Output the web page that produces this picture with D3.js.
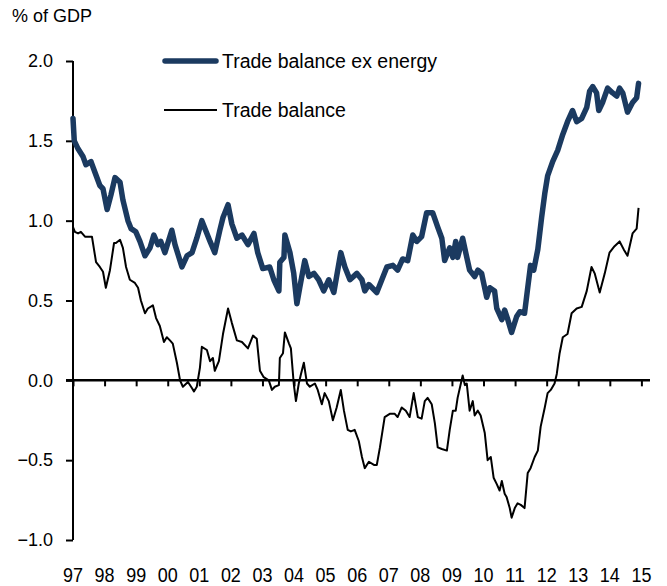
<!DOCTYPE html>
<html><head><meta charset="utf-8">
<script src="https://cdn.jsdelivr.net/npm/d3@7"></script>
<style>html,body{margin:0;padding:0;background:#fff;}svg{display:block;font-family:"Liberation Sans",Arial,sans-serif;}</style>
</head><body><div id="chart"></div>
<script>
// Decimal years (1997 = start of 1997) and values, % of GDP
const exDates = [1997.00,1997.04,1997.16,1997.32,1997.41,1997.57,1997.70,1997.85,1997.95,1998.08,1998.20,1998.33,1998.49,1998.58,1998.74,1998.84,1998.99,1999.12,1999.28,1999.44,1999.56,1999.69,1999.78,1999.91,2000.13,2000.23,2000.45,2000.61,2000.77,2000.92,2001.08,2001.24,2001.34,2001.49,2001.65,2001.75,2001.91,2002.03,2002.19,2002.35,2002.54,2002.73,2002.85,2003.01,2003.23,2003.36,2003.52,2003.55,2003.68,2003.71,2003.87,2003.99,2004.09,2004.18,2004.34,2004.47,2004.63,2004.78,2004.94,2005.10,2005.26,2005.48,2005.61,2005.77,2005.99,2006.15,2006.24,2006.37,2006.62,2006.78,2006.94,2007.13,2007.28,2007.44,2007.60,2007.76,2007.89,2008.04,2008.20,2008.39,2008.55,2008.68,2008.77,2008.93,2009.03,2009.12,2009.18,2009.34,2009.47,2009.56,2009.72,2009.82,2009.94,2010.10,2010.20,2010.35,2010.42,2010.58,2010.67,2010.77,2010.89,2011.05,2011.15,2011.30,2011.40,2011.49,2011.59,2011.72,2011.84,2011.94,2012.03,2012.19,2012.35,2012.51,2012.66,2012.82,2012.95,2013.11,2013.27,2013.36,2013.46,2013.58,2013.65,2013.77,2013.93,2014.09,2014.22,2014.31,2014.41,2014.56,2014.72,2014.85,2014.91];
const exValues = [1.64,1.50,1.45,1.40,1.35,1.37,1.30,1.22,1.20,1.07,1.16,1.27,1.24,1.13,1.00,0.95,0.93,0.87,0.78,0.83,0.91,0.85,0.87,0.80,0.94,0.85,0.71,0.78,0.80,0.89,1.00,0.92,0.87,0.80,0.94,1.02,1.10,0.98,0.89,0.91,0.85,0.92,0.80,0.70,0.71,0.63,0.56,0.74,0.77,0.91,0.80,0.67,0.48,0.58,0.75,0.65,0.67,0.63,0.56,0.63,0.55,0.80,0.71,0.63,0.67,0.63,0.56,0.60,0.55,0.63,0.71,0.72,0.69,0.76,0.75,0.91,0.87,0.90,1.05,1.05,0.96,0.89,0.75,0.83,0.77,0.87,0.77,0.89,0.77,0.69,0.65,0.69,0.67,0.52,0.58,0.56,0.45,0.38,0.44,0.38,0.30,0.40,0.43,0.42,0.58,0.72,0.69,0.82,1.02,1.17,1.28,1.37,1.44,1.54,1.62,1.69,1.62,1.64,1.71,1.81,1.84,1.80,1.69,1.74,1.83,1.80,1.78,1.83,1.80,1.68,1.74,1.77,1.86];
const tbDates = [1997.00,1997.06,1997.16,1997.25,1997.38,1997.60,1997.73,1997.85,1997.95,1998.04,1998.17,1998.30,1998.36,1998.49,1998.58,1998.68,1998.80,1998.96,1999.06,1999.15,1999.28,1999.37,1999.53,1999.63,1999.75,1999.88,1999.97,2000.07,2000.16,2000.29,2000.39,2000.48,2000.64,2000.77,2000.83,2000.92,2001.02,2001.08,2001.24,2001.34,2001.43,2001.49,2001.62,2001.75,2001.91,2002.03,2002.19,2002.35,2002.54,2002.70,2002.82,2002.92,2003.04,2003.20,2003.30,2003.39,2003.52,2003.55,2003.65,2003.71,2003.84,2003.90,2003.99,2004.06,2004.15,2004.22,2004.31,2004.41,2004.50,2004.66,2004.75,2004.88,2004.97,2005.10,2005.23,2005.35,2005.48,2005.58,2005.70,2005.80,2005.92,2006.05,2006.15,2006.24,2006.37,2006.53,2006.62,2006.72,2006.87,2007.03,2007.19,2007.28,2007.41,2007.54,2007.66,2007.79,2007.92,2008.04,2008.14,2008.23,2008.36,2008.46,2008.55,2008.68,2008.84,2008.93,2009.03,2009.12,2009.18,2009.34,2009.41,2009.47,2009.56,2009.66,2009.72,2009.82,2009.91,2010.04,2010.13,2010.23,2010.32,2010.42,2010.51,2010.58,2010.67,2010.73,2010.83,2010.89,2010.99,2011.08,2011.18,2011.30,2011.40,2011.49,2011.62,2011.72,2011.81,2011.94,2012.03,2012.13,2012.25,2012.32,2012.41,2012.51,2012.66,2012.79,2012.95,2013.11,2013.27,2013.42,2013.52,2013.68,2013.84,2013.99,2014.15,2014.31,2014.44,2014.56,2014.72,2014.85,2014.91];
const tbValues = [0.96,0.93,0.92,0.93,0.90,0.90,0.74,0.71,0.68,0.58,0.69,0.86,0.86,0.88,0.83,0.71,0.63,0.61,0.58,0.50,0.42,0.45,0.47,0.39,0.34,0.24,0.27,0.25,0.23,0.11,0.00,-0.04,-0.01,-0.05,-0.07,-0.04,0.08,0.21,0.19,0.12,0.14,0.06,0.12,0.29,0.45,0.36,0.25,0.24,0.20,0.28,0.26,0.06,0.02,0.00,-0.06,-0.04,-0.03,0.14,0.17,0.30,0.23,0.20,-0.02,-0.13,-0.02,0.04,0.11,-0.02,-0.04,-0.02,-0.06,-0.15,-0.08,-0.13,-0.25,-0.17,-0.06,-0.19,-0.31,-0.32,-0.31,-0.38,-0.48,-0.55,-0.51,-0.53,-0.53,-0.42,-0.23,-0.21,-0.21,-0.23,-0.17,-0.19,-0.23,-0.08,-0.23,-0.24,-0.13,-0.11,-0.15,-0.27,-0.42,-0.43,-0.44,-0.31,-0.19,-0.19,-0.11,0.03,-0.03,-0.02,-0.19,-0.13,-0.22,-0.19,-0.22,-0.33,-0.50,-0.48,-0.61,-0.65,-0.69,-0.63,-0.71,-0.73,-0.80,-0.86,-0.80,-0.77,-0.78,-0.80,-0.58,-0.55,-0.48,-0.44,-0.29,-0.17,-0.08,-0.06,-0.02,0.04,0.17,0.27,0.29,0.42,0.45,0.46,0.56,0.71,0.67,0.55,0.67,0.80,0.84,0.87,0.82,0.78,0.92,0.95,1.08];
const yTicks = [2.0,1.5,1.0,0.5,0.0,-0.5,-1.0];
const xYears = d3.range(1997,2016);
const xLabels = ["97","98","99","00","01","02","03","04","05","06","07","08","09","10","11","12","13","14","15"];
const seriesNames = ["Trade balance ex energy","Trade balance"];
const unitLabel = "% of GDP";

const W=667,H=586;
const svg=d3.select("#chart").append("svg").attr("width",W).attr("height",H);
const x=d3.scaleLinear().domain([1997,2015]).range([73,641.4]);
const y=d3.scaleLinear().domain([-1,2]).range([540,61]);
const navy="#1b3a60";

svg.append("text").attr("x",12).attr("y",22).attr("font-size",18).attr("fill","#000").text(unitLabel);

// y axis
const ya=svg.append("g").attr("transform","translate(73,0)")
  .call(d3.axisLeft(y).tickValues(yTicks).tickSize(7).tickPadding(13).tickFormat(d3.format(".1f")));
ya.select(".domain").attr("stroke","#000").attr("stroke-width",2).attr("d","M0,"+y(2)+"V"+y(-1));
ya.selectAll(".tick line").attr("stroke","#000").attr("stroke-width",2);
ya.selectAll(".tick text").attr("font-size",18).attr("fill","#000").attr("font-family","Liberation Sans, Arial, sans-serif");

// x axis at zero
const xa=svg.append("g").attr("transform","translate(0,"+y(0)+")")
  .call(d3.axisBottom(x).tickValues(xYears).tickSize(6).tickFormat(""));
xa.select(".domain").attr("stroke","#000").attr("stroke-width",2.5).attr("d","M66,0H650");
xa.selectAll(".tick line").attr("stroke","#000").attr("stroke-width",2);

// x labels at bottom
svg.append("g").selectAll("text").data(xYears).join("text")
  .attr("x",d=>x(d)).attr("y",582).attr("text-anchor","middle").attr("font-size",20)
  .attr("textLength",20).attr("lengthAdjust","spacingAndGlyphs")
  .attr("fill","#000").text((d,i)=>xLabels[i]);

const line=d3.line().x(d=>x(d[0])).y(d=>y(d[1]));
svg.append("path").datum(tbDates.map((d,i)=>[d,tbValues[i]])).attr("d",line)
  .attr("fill","none").attr("stroke","#000").attr("stroke-width",2).attr("stroke-linejoin","round");
svg.append("path").datum(exDates.map((d,i)=>[d,exValues[i]])).attr("d",line)
  .attr("fill","none").attr("stroke",navy).attr("stroke-width",5.5).attr("stroke-linejoin","round").attr("stroke-linecap","round");

// legend
const lg=svg.append("g");
lg.append("line").attr("x1",165).attr("x2",216).attr("y1",61).attr("y2",61).attr("stroke",navy).attr("stroke-width",5.5).attr("stroke-linecap","round");
lg.append("text").attr("x",222).attr("y",61).attr("dy","0.35em").attr("font-size",19.5).text(seriesNames[0]);
lg.append("line").attr("x1",164).attr("x2",217).attr("y1",110).attr("y2",110).attr("stroke","#000").attr("stroke-width",2);
lg.append("text").attr("x",222).attr("y",110).attr("dy","0.35em").attr("font-size",19.5).text(seriesNames[1]);
</script></body></html>
